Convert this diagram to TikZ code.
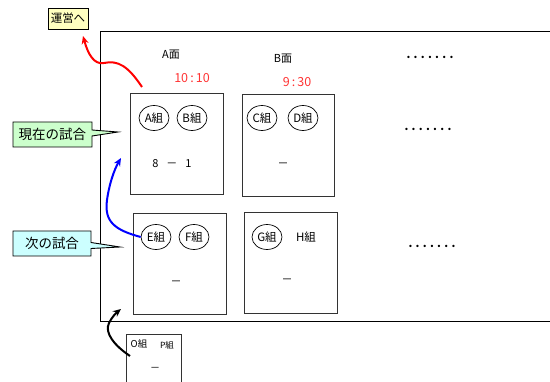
\documentclass[tikz,border=0pt]{standalone}
\usepackage{fontspec}
\newfontfamily\jp{Noto Sans CJK JP}
\usetikzlibrary{arrows.meta,shapes.geometric,shapes.callouts}
\definecolor{noteyellow}{HTML}{FFFFC0}
\definecolor{notegreen}{HTML}{CCFFCC}
\definecolor{notecyan}{HTML}{CCFFFF}
\definecolor{timered}{HTML}{FF3333}
\newcommand{\dotrow}{\textbf{.\hspace{3.3pt}.\hspace{3.3pt}.\hspace{3.3pt}.\hspace{3.3pt}.\hspace{3.3pt}.\hspace{3.3pt}.}}
\begin{document}
\begin{tikzpicture}[x=1pt,y=-1pt,
    every node/.style={font=\jp\fontsize{11}{13}\selectfont},
    court/.style={draw,line width=0.9pt,draw=black!80,minimum width=93pt,minimum height=101pt,anchor=north west,inner sep=0},
    team/.style={draw,ellipse,line width=0.7pt,minimum width=30pt,minimum height=25pt,inner sep=0,font=\jp\fontsize{11.5}{13}\selectfont},
    note/.style={rectangle callout,draw,line width=0.9pt,font=\jp\fontsize{13.5}{15}\selectfont,inner sep=2pt,callout pointer width=6pt}]
    \useasboundingbox (0,0) rectangle (550,382);

    % frame of the courts, open to the right
    \draw[line width=1pt] (550,32) -- (100,32) -- (100,322) -- (550,322);

    \node (unei) [draw,fill=noteyellow,line width=0.9pt,inner sep=1pt,minimum width=40pt,minimum height=21pt,font=\jp\fontsize{11.5}{13}\selectfont] at (68,18.5) {運営へ};

    \node (menA) at (171,55) {A面};
    \node (menB) at (283,59) {B面};
    \node (timeA) [text=timered,font=\jp\fontsize{12.5}{14}\selectfont] at (192,78) {10\,:\,10};
    \node (timeB) [text=timered,font=\jp\fontsize{12.5}{14}\selectfont] at (297,82) {9\,:\,30};

    \node (dotsA) at (430,57) {\dotrow};
    \node (dotsB) at (428,129) {\dotrow};
    \node (dotsC) at (432,246) {\dotrow};

    % current games
    \node (boxA) [court] at (130,93) {};
    \node (teamA) [team] at (154,118) {A組};
    \node (teamB) [team] at (192,118) {B組};
    \node (scoreA) at (172,164) {8\hspace{8pt}－\hspace{8pt}1};

    \node (boxB) [court,minimum width=92pt,minimum height=102pt] at (242,94) {};
    \node (teamC) [team] at (262,118) {C組};
    \node (teamD) [team] at (303,118) {D組};
    \node (scoreB) at (283,165) {－};

    % next games
    \node (boxE) [court,minimum height=101pt] at (133,213) {};
    \node (teamE) [team] at (156,237) {E組};
    \node (teamF) [team] at (194,237) {F組};
    \node (scoreE) at (176,283) {－};

    \node (boxG) [court,minimum width=93pt] at (244,212) {};
    \node (teamG) [team] at (267,237) {G組};
    \node (teamH) [font=\jp\fontsize{11.5}{13}\selectfont] at (306,237) {H組};
    \node (scoreG) at (287,281) {－};

    % waiting game below the frame
    \node (boxO) [court,minimum width=55pt,minimum height=60pt] at (126,334) {};
    \node (teamO) [font=\jp\fontsize{9.5}{11}\selectfont] at (139,344) {O組};
    \node (teamP) [font=\jp\fontsize{8.5}{10}\selectfont] at (167,345) {P組};
    \node (scoreO) [font=\jp\fontsize{10}{11}\selectfont] at (155,369) {－};

    \node (genzai) [note,fill=notegreen,minimum width=79pt,minimum height=25pt,callout absolute pointer={(118,132)}] at (52.5,134.5) {現在の試合};
    \node (tsugi) [note,fill=notecyan,minimum width=78pt,minimum height=25pt,callout absolute pointer={(120,247)}] at (52,243.5) {次の試合};

    \coordinate (redstart) at (142,87);
    \coordinate (redtip) at (83,36);
    \coordinate (bluetip) at (121,158);
    \coordinate (blackstart) at (130,356);
    \coordinate (blacktip) at (121,309);

    \draw[red,line width=2pt,-{Stealth[length=8pt,width=7pt]}] (redstart) .. controls (128,66) and (118,60) .. (104,63) .. controls (94,65) and (88,54) .. (redtip);
    \draw[blue,line width=2pt,-{Stealth[length=8pt,width=7pt]}] (teamE.west) .. controls (115,230) and (104,222) .. (107,200) .. controls (109,185) and (114,170) .. (bluetip);
    \draw[black,line width=2pt,-{Stealth[length=8pt,width=7pt]}] (blackstart) .. controls (115,346) and (104,333) .. (109,323) .. controls (112,317) and (116,313) .. (blacktip);
\end{tikzpicture}
\end{document}
